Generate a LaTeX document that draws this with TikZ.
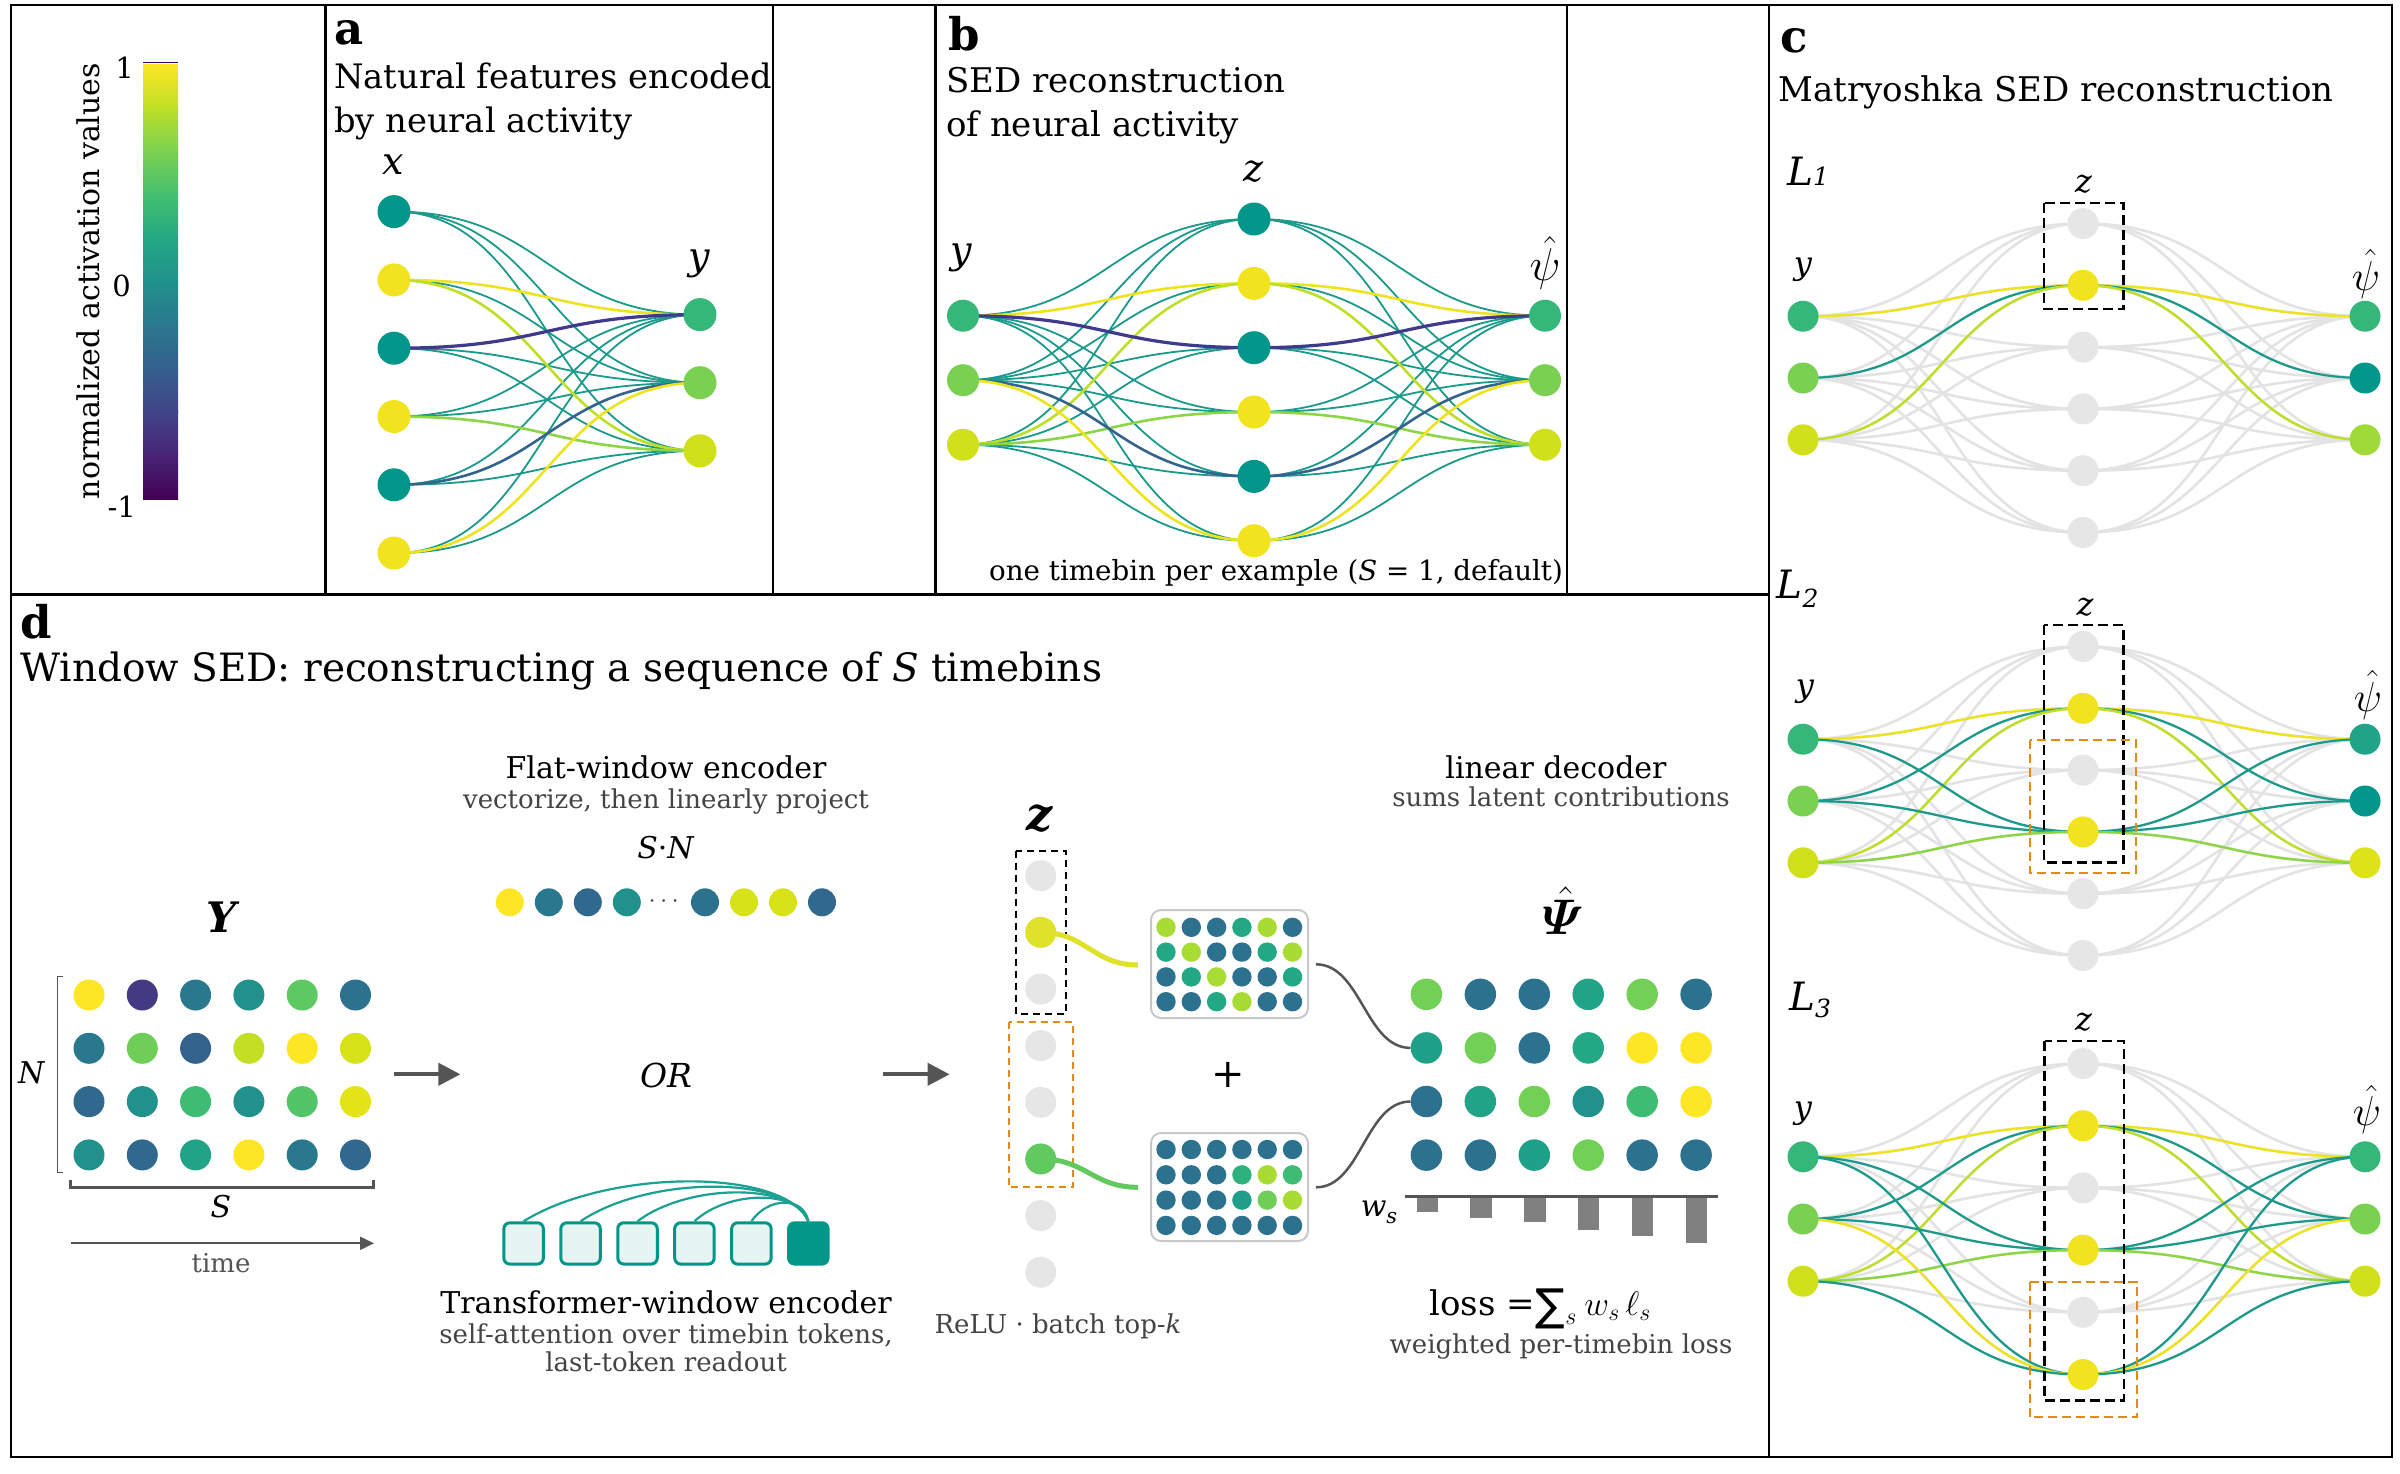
\documentclass[tikz,border=0pt]{standalone}
\usepackage{fix-cm}
\usepackage{amsmath}
\usepackage{bm}
\usepackage{fontspec}
\setmainfont{DejaVu Serif}
\newfontfamily\djs{DejaVu Sans}
\usetikzlibrary{arrows.meta}
\pgfdeclarelayer{back}
\pgfdeclarelayer{bg}
\pgfsetlayers{back,bg,main}
% viridis
\definecolor{v0}{HTML}{440154}\definecolor{v1}{HTML}{482475}\definecolor{v2}{HTML}{414487}
\definecolor{v3}{HTML}{355F8D}\definecolor{v4}{HTML}{2A788E}\definecolor{v5}{HTML}{21918C}
\definecolor{v6}{HTML}{22A884}\definecolor{v7}{HTML}{44BF70}\definecolor{v8}{HTML}{7AD151}
\definecolor{v9}{HTML}{BDDF26}\definecolor{v10}{HTML}{FDE725}
% network nodes
\definecolor{nteal}{HTML}{00968A}\definecolor{nyel}{HTML}{F1E41F}\definecolor{ngreen}{HTML}{35B779}
\definecolor{nlg}{HTML}{7AD151}\definecolor{nyg}{HTML}{D0E11C}\definecolor{ngray}{HTML}{E6E6E6}
\definecolor{npsiA}{HTML}{A0DA39}\definecolor{npsiB}{HTML}{20A386}\definecolor{npsiC}{HTML}{DDE318}
% edges
\definecolor{eteal}{HTML}{1A9A8A}\definecolor{eyel}{HTML}{EDE31E}\definecolor{eyg}{HTML}{BDDF26}
\definecolor{elg}{HTML}{8CD646}\definecolor{epur}{HTML}{3F3A8B}\definecolor{eblue}{HTML}{34638D}
\definecolor{egray}{HTML}{E3E3E3}
% matrix colours
\definecolor{Vy}{HTML}{FDE725}\definecolor{Vp}{HTML}{443A83}\definecolor{Vb}{HTML}{2A788E}
\definecolor{Vt}{HTML}{21918C}\definecolor{Vg}{HTML}{5EC962}\definecolor{Vd}{HTML}{2C728E}
\definecolor{Vn}{HTML}{33638D}\definecolor{Vl}{HTML}{C2DF23}\definecolor{Vk}{HTML}{D8E219}
\definecolor{Vm}{HTML}{3FBC73}\definecolor{Vh}{HTML}{52C569}\definecolor{Vj}{HTML}{E2E418}
\definecolor{Vq}{HTML}{1FA088}\definecolor{Vs}{HTML}{20A386}\definecolor{Va}{HTML}{A8DB34}
\definecolor{Vc}{HTML}{22A884}\definecolor{Ve}{HTML}{73D056}\definecolor{Vf}{HTML}{2DB27D}
\definecolor{Vo}{HTML}{6ECE58}\definecolor{Vr}{HTML}{1F9E89}\definecolor{Vw}{HTML}{31688E}
\definecolor{zY}{HTML}{E0E22A}\definecolor{zG}{HTML}{62C95F}
\definecolor{subg}{HTML}{444444}\definecolor{dg}{HTML}{555555}\definecolor{dorange}{HTML}{E58A12}
\definecolor{tokfill}{HTML}{E6F4F2}\definecolor{tokteal}{HTML}{009688}\definecolor{arcteal}{HTML}{1AA192}
\definecolor{wbox}{HTML}{C8C8C8}\definecolor{bar}{HTML}{808080}
\newcommand\fsz[1]{\fontsize{#1}{#1}\selectfont}
\tikzset{
  nd/.style={circle, inner sep=0pt, minimum size=#1, draw=none},
  frame/.style={line width=2.5pt, black},
  lbl/.style={inner sep=0pt},
  ET/.style={eteal, line width=1.8pt},
  EY/.style={eyel, line width=2.6pt},
  EG/.style={eyg, line width=2.6pt},
  EL/.style={elg, line width=2.6pt},
  EP/.style={epur, line width=3.2pt},
  EB/.style={eblue, line width=2.6pt},
  GE/.style={egray, line width=2.6pt},
  CT/.style={eteal, line width=2.2pt},
  CY/.style={eyel, line width=2.4pt},
  CG/.style={eyg, line width=2.4pt},
  CL/.style={elg, line width=2.4pt},
  blackbox/.style={black, line width=2.2pt, dash pattern=on 10pt off 5pt},
  orangebox/.style={dorange, line width=2.2pt, dash pattern=on 9pt off 5pt},
  bigarrow/.style={dg, line width=4pt, -{Triangle[length=22pt,width=22pt]}},
  token/.style={rounded corners=6pt, draw=tokteal, line width=3pt, fill=tokfill, minimum width=39.5pt, minimum height=41.3pt, inner sep=0pt},
  wmat/.style={draw=wbox, line width=2pt, rounded corners=10pt, fill=white},
}
\newcommand\netlayer[5]{%
  \foreach \j/\cc in {1/ngreen,2/nlg,3/nyg} \node[nd=31,fill=\cc] (#1y\j) at (1803,{#2+(\j-2)*#3}) {};
  \foreach \i/\cc in {#4} \node[nd=31,fill=\cc] (#1z\i) at (2083,{#2+(\i-3.5)*#3}) {};
  \foreach \j/\cc in {#5} \node[nd=31,fill=\cc] (#1p\j) at (2365,{#2+(\j-2)*#3}) {};
  \begin{pgfonlayer}{bg}
  \foreach \i in {1,...,6} \foreach \j in {1,2,3} {
    \draw[GE] (#1y\j.center) .. controls +(140,0) and +(-140,0) .. (#1z\i.center);
    \draw[GE] (#1z\i.center) .. controls +(141,0) and +(-141,0) .. (#1p\j.center);}
  \end{pgfonlayer}}
\newcommand\zpat[5]{%
  \begin{pgfonlayer}{bg}
  \draw[#3] (#1y1.center) .. controls +(140,0) and +(-140,0) .. (#1z#2.center);
  \draw[#3] (#1z#2.center) .. controls +(141,0) and +(-141,0) .. (#1p1.center);
  \draw[#4] (#1y2.center) .. controls +(140,0) and +(-140,0) .. (#1z#2.center);
  \draw[#4] (#1z#2.center) .. controls +(141,0) and +(-141,0) .. (#1p2.center);
  \draw[#5] (#1y3.center) .. controls +(140,0) and +(-140,0) .. (#1z#2.center);
  \draw[#5] (#1z#2.center) .. controls +(141,0) and +(-141,0) .. (#1p3.center);
  \end{pgfonlayer}}
\begin{document}
\begin{tikzpicture}[x=1pt,y=-1pt]
\useasboundingbox (0,0) rectangle (2400,1473);
\begin{pgfonlayer}{back}
\fill[white] (0,0) rectangle (2400,1473);
\end{pgfonlayer}
% ---------- frames
\draw[frame] (11,5) rectangle (2392,1457);
\draw[frame] (1769,5) -- (1769,1457);
\draw[frame] (11,594.5) -- (1769,594.5);
\foreach \xx in {325.5,773,935.6,1567} \draw[frame] (\xx,5) -- (\xx,594.5);
% ---------- colorbar
\foreach \k in {0,...,9} {
  \pgfmathtruncatemacro\kk{\k+1}
  \shade[bottom color=v\k, top color=v\kk] (143,{499-43.4*(\k+1)-0.6}) rectangle (178,{499-43.4*\k});
}
\draw[v0, line width=1.5pt] (143,62.5) -- (178,62.5);
\node[lbl, rotate=90, anchor=base] at (99.5,281) {\fsz{30}normalized activation values};
\node[lbl, anchor=east] at (134,68) {\fsz{29}1};
\node[lbl, anchor=east] at (131,286) {\fsz{29}0};
\node[lbl, anchor=east] at (136,507) {\fsz{29}-1};
% ---------- panel a
\node[lbl, anchor=base west] at (334,44) {\fsz{45}\textbf{a}};
\node[lbl, anchor=base west] at (334,88) {\fsz{33.7}Natural features encoded};
\node[lbl, anchor=base west] at (334,132) {\fsz{33.7}by neural activity};
\node[lbl] at (393,164.6) {\fsz{38}\textit{x}};
\node[lbl] at (699,264) {\fsz{38}\textit{y}};
\foreach \i/\cc in {1/nteal,2/nyel,3/nteal,4/nyel,5/nteal,6/nyel}
  \node[nd=33,fill=\cc] (ax\i) at (394,{211.6+68.3*(\i-1)}) {};
\foreach \j/\cc in {1/ngreen,2/nlg,3/nyg}
  \node[nd=33,fill=\cc] (ay\j) at (700,{314.6+68.1*(\j-1)}) {};
\begin{pgfonlayer}{bg}
\foreach \i/\j/\s in {1/1/ET,1/2/ET,1/3/ET,2/2/ET,3/2/ET,3/3/ET,4/1/ET,4/2/ET,5/1/ET,5/3/ET,6/1/ET,6/3/ET,
                      2/1/EY,2/3/EG,3/1/EP,4/3/EL,5/2/EB,6/2/EY}
  \draw[\s] (ax\i.center) .. controls +(153,0) and +(-153,0) .. (ay\j.center);
\end{pgfonlayer}
% ---------- panel b
\node[lbl, anchor=base west] at (948,50) {\fsz{45}\textbf{b}};
\node[lbl, anchor=base west] at (946,92) {\fsz{34}SED reconstruction};
\node[lbl, anchor=base west] at (946,136) {\fsz{34}of neural activity};
\node[lbl] at (961,258) {\fsz{38}\textit{y}};
\node[lbl] at (1253.5,172) {\fsz{38}\textit{z}};
\node[lbl] at (1545,263) {\fsz{46}$\hat{\psi}$};
\foreach \j/\cc in {1/ngreen,2/nlg,3/nyg} {
  \node[nd=32,fill=\cc] (by\j) at (963,{315.7+64.5*(\j-1)}) {};
  \node[nd=32,fill=\cc] (bp\j) at (1545,{315.7+64.5*(\j-1)}) {};
}
\foreach \i/\cc in {1/nteal,2/nyel,3/nteal,4/nyel,5/nteal,6/nyel}
  \node[nd=33,fill=\cc] (bz\i) at (1254,{219+64.35*(\i-1)}) {};
\begin{pgfonlayer}{bg}
\foreach \i/\j/\s in {1/1/ET,1/2/ET,1/3/ET,2/2/ET,3/2/ET,3/3/ET,4/1/ET,4/2/ET,5/1/ET,5/3/ET,6/1/ET,6/3/ET,
                      2/1/EY,2/3/EG,3/1/EP,4/3/EL,5/2/EB,6/2/EY} {
  \draw[\s] (by\j.center) .. controls +(145,0) and +(-145,0) .. (bz\i.center);
  \draw[\s] (bz\i.center) .. controls +(145,0) and +(-145,0) .. (bp\j.center);
}
\end{pgfonlayer}
\node[lbl, anchor=base west] at (989,580) {\fsz{27.7}one timebin per example (\textit{S} = 1, default)};
% ---------- panel c
\node[lbl, anchor=base west] at (1780,52) {\fsz{45}\textbf{c}};
\node[lbl, anchor=base west] at (1778.5,101.4) {\fsz{34}Matryoshka SED reconstruction};
\node[lbl, anchor=base west] at (1787,185.6) {\fsz{39}\textit{L}\fsz{25}\textit{1}};
\node[lbl, anchor=base west] at (1776.5,598.3) {\fsz{39}\textit{L}\raisebox{-9pt}{\fsz{25}\textit{2}}};
\node[lbl, anchor=base west] at (1789,1010.6) {\fsz{39}\textit{L}\raisebox{-7pt}{\fsz{25}\textit{3}}};
% L1
\netlayer{A}{378}{61.8}{1/ngray,2/nyel,3/ngray,4/ngray,5/ngray,6/ngray}{1/ngreen,2/nteal,3/npsiA}
\zpat{A}{2}{CY}{CT}{CG}
\draw[blackbox] (2044,203) rectangle (2123.5,309);
\node[lbl] at (2083.7,183.7) {\fsz{32}\textit{z}};
\node[lbl] at (1803,270) {\fsz{32}\textit{y}};
\node[lbl] at (2366,274) {\fsz{42}$\hat{\psi}$};
% L2
\netlayer{B}{801}{61.8}{1/ngray,2/nyel,3/ngray,4/nyel,5/ngray,6/ngray}{1/npsiB,2/nteal,3/npsiC}
\zpat{B}{2}{CY}{CT}{CG}
\zpat{B}{4}{CT}{CT}{CL}
\draw[blackbox] (2044,625) rectangle (2123.5,862.5);
\draw[orangebox] (2030,740) rectangle (2136,873);
\node[lbl] at (2085,606.7) {\fsz{32}\textit{z}};
\node[lbl] at (1805,691.7) {\fsz{32}\textit{y}};
\node[lbl] at (2368,695) {\fsz{42}$\hat{\psi}$};
% L3
\netlayer{C}{1219}{62.2}{1/ngray,2/nyel,3/ngray,4/nyel,5/ngray,6/nyel}{1/ngreen,2/nlg,3/nyg}
\zpat{C}{2}{CY}{CT}{CG}
\zpat{C}{4}{CT}{CT}{CL}
\zpat{C}{6}{CT}{CY}{CT}
\draw[blackbox] (2044.5,1041) rectangle (2123.7,1400.4);
\draw[orangebox] (2030,1281.6) rectangle (2137,1417.3);
\node[lbl] at (2083.7,1022.4) {\fsz{32}\textit{z}};
\node[lbl] at (1803,1113.6) {\fsz{32}\textit{y}};
\node[lbl] at (2367,1109.5) {\fsz{42}$\hat{\psi}$};
% ---------- panel d
\node[lbl, anchor=base west] at (20,638) {\fsz{45}\textbf{d}};
\node[lbl, anchor=base west] at (20,681.7) {\fsz{39}Window SED: reconstructing a sequence of \textit{S} timebins};
% Y matrix
\node[lbl] at (222.7,916.7) {\fsz{42}\textbf{\textit{Y}}};
\foreach \r/\row in {1/{Vy,Vp,Vb,Vt,Vg,Vd},2/{Vb,Vo,Vn,Vl,Vy,Vk},3/{Vw,Vt,Vm,Vt,Vh,Vj},4/{Vt,Vw,Vs,Vy,Vb,Vw}}
  \foreach \cc [count=\k] in \row
    \node[nd=31,fill=\cc] (Ym\r\k) at ({89+53.3*(\k-1)},{995+53.3*(\r-1)}) {};
\draw[dg, line width=1.5pt] (63,976.7) -- (57.4,976.7) -- (57.4,1172.3) -- (63,1172.3);
\node[lbl] at (31.6,1073) {\fsz{30}\textit{N}};
\draw[dg, line width=3pt] (70.6,1180) -- (70.6,1187.3) -- (373,1187.3) -- (373,1180);
\node[lbl] at (221,1207) {\fsz{30}\textit{S}};
\coordinate (t0) at (70.6,1243.3);
\coordinate (t1) at (374,1243.3);
\draw[dg, line width=2pt, -{Triangle[length=14pt,width=13pt]}] (t0) -- (t1);
\node[lbl, anchor=base, text=dg] at (221,1272) {\fsz{26}time};
% arrows
\coordinate (a0) at (393.8,1074.3);
\coordinate (a1) at (460.4,1074.3);
\draw[bigarrow] (a0) -- (a1);
\coordinate (b0) at (883,1074.3);
\coordinate (b1) at (949.6,1074.3);
\draw[bigarrow] (b0) -- (b1);
\node[lbl] (orn) at (666,1075) {\fsz{33}\textit{OR}};
% flat window encoder
\node[lbl, anchor=base] at (666,778.3) {\fsz{30}Flat-window encoder};
\node[lbl, anchor=base, text=subg] at (666,808) {\fsz{26}vectorize, then linearly project};
\node[lbl, anchor=base] at (666,858) {\fsz{30}\textit{S}·\textit{N}};
\foreach \cc [count=\k] in {Vy,Vb,Vw,Vt}
  \node[nd=28,fill=\cc] (va\k) at ({509.8+39*(\k-1)},902.3) {};
\foreach \cc [count=\k] in {Vd,Vk,Vk,Vw}
  \node[nd=28,fill=\cc] (vb\k) at ({705+39*(\k-1)},902.3) {};
\node[lbl, text=subg] at (666,902) {\fsz{26}$\cdots$};
% transformer window encoder
\foreach \k in {1,...,5}
  \node[token] (tok\k) at ({523.6+56.95*(\k-1)},1243.4) {};
\node[token, fill=tokteal] (tok6) at (808.3,1243.4) {};
\foreach \k/\pk in {1/1181.7,2/1187,3/1192.7,4/1198,5/1203} {
  \pgfmathsetmacro\xk{523.6+56.95*(\k-1)}
  \pgfmathsetmacro\dk{808.3-\xk}
  \pgfmathsetmacro\hk{1222.7-(1222.7-\pk)/0.75}
  \draw[arcteal, line width=2.2pt] (tok\k.north) .. controls ({\xk+0.3*\dk},\hk) and ({808.3-0.08*\dk},\hk) .. (tok6.north);
}
\node[lbl, anchor=base] at (666,1313.3) {\fsz{30}Transformer-window encoder};
\node[lbl, anchor=base, text=subg] at (666,1343) {\fsz{26}self-attention over timebin tokens,};
\node[lbl, anchor=base, text=subg] at (666,1371.7) {\fsz{26}last-token readout};
% z column
\node[lbl] at (1039.5,818.3) {\fsz{46}\textbf{\textit{z}}};
\foreach \cc [count=\k] in {ngray,zY,ngray,ngray,ngray,zG,ngray,ngray}
  \node[nd=31,fill=\cc] (zc\k) at (1040.7,{875.7+56.65*(\k-1)}) {};
\draw[black, line width=2.2pt, dash pattern=on 7pt off 5pt] (1016.3,850.7) rectangle (1065.6,1014);
\draw[dorange, line width=2.2pt, dash pattern=on 7pt off 5pt] (1008.8,1021.7) rectangle (1073,1187.3);
\node[lbl, anchor=base, text=subg] at (1058,1333) {\fsz{26}ReLU · batch top-\textit{k}};
% weight matrices
\draw[wmat] (1151,910) rectangle (1308,1018);
\draw[wmat] (1151,1133) rectangle (1308,1241);
\foreach \r/\row in {1/{Va,Vd,Vd,Vc,Va,Vd},2/{Vc,Va,Vd,Vd,Vc,Va},3/{Vd,Vc,Va,Vd,Vd,Vc},4/{Vd,Vd,Vc,Va,Vd,Vd}}
  \foreach \cc [count=\k] in \row
    \node[nd=19.4,fill=\cc] (wa\r\k) at ({1166+25.3*(\k-1)},{927.3+24.8*(\r-1)}) {};
\foreach \r/\row in {1/{Vd,Vd,Vd,Vd,Vd,Vd},2/{Vd,Vd,Vd,Vf,Va,Vm},3/{Vd,Vd,Vd,Vr,Vo,Va},4/{Vd,Vd,Vd,Vd,Vd,Vd}}
  \foreach \cc [count=\k] in \row
    \node[nd=19.4,fill=\cc] (wb\r\k) at ({1166+25.3*(\k-1)},{1149.5+25.3*(\r-1)}) {};
\coordinate (za) at (1138,965);
\coordinate (zb) at (1138,1187.3);
\draw[zY, line width=5pt] (zc2.center) .. controls +(45,0) and +(-45,0) .. (za);
\draw[zG, line width=5pt] (zc6.center) .. controls +(45,0) and +(-45,0) .. (zb);
\node[lbl] at (1228,1075) {\fsz{40}+};
% Psi matrix
\node[lbl] at (1563,911) {\fsz{50}$\bm{\hat{\varPsi}}$};
\foreach \r/\row in {1/{Ve,Vd,Vd,Vs,Ve,Vd},2/{Vq,Ve,Vd,Vc,Vy,Vy},3/{Vd,Vs,Ve,Vt,Vm,Vy},4/{Vd,Vd,Vq,Ve,Vd,Vd}}
  \foreach \cc [count=\k] in \row
    \node[nd=31.5,fill=\cc] (pm\r\k) at ({1426.4+53.94*(\k-1)},{994.3+53.6*(\r-1)}) {};
\coordinate (ca0) at (1316,964.3);
\coordinate (cb0) at (1316,1187.3);
\draw[dg, line width=2.5pt] (ca0) .. controls +(45,0) and +(-45,0) .. (pm21.west);
\draw[dg, line width=2.5pt] (cb0) .. controls +(45,0) and +(-45,0) .. (pm31.west);
\node[lbl, anchor=base] at (1556,778.3) {\fsz{30}linear decoder};
\node[lbl, anchor=base, text=subg] at (1561,806.7) {\fsz{26}sums latent contributions};
% w_s bars
\foreach \k/\bb in {1/1212.3,2/1217.5,3/1222,4/1229.5,5/1236.3,6/1243.2}
  \fill[bar] ({1427.3+53.8*(\k-1)-10.75},1197) rectangle ({1427.3+53.8*(\k-1)+10.75},\bb);
\draw[dg, line width=3pt] (1405,1196.6) -- (1718,1196.6);
\node[lbl] at (1379,1212) {\fsz{30}\textit{w}\raisebox{-7pt}{\fsz{21}\textit{s}}};
\node[lbl, anchor=base west] at (1429,1315.7) {\fsz{34}loss =\kern1pt\raisebox{-5pt}{\djs\fsz{44}∑}\raisebox{-9pt}{\fsz{24}$s$}\kern8pt$w_s\,\ell_s$};
\node[lbl, anchor=base, text=subg] at (1561,1353.4) {\fsz{26}weighted per-timebin loss};
\end{tikzpicture}
\end{document}
